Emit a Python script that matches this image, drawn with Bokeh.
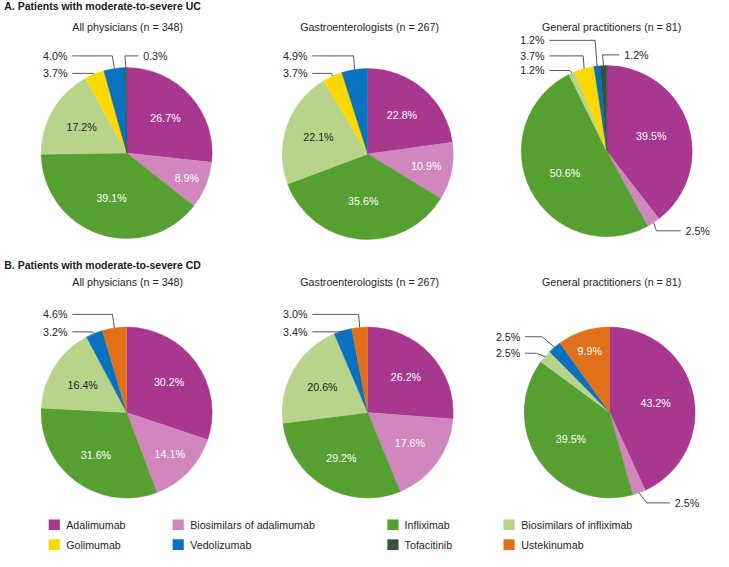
import math
from bokeh.plotting import figure
from bokeh.models import Range1d, ColumnDataSource
from bokeh.embed import file_html
from bokeh.resources import INLINE
from bokeh.core.properties import value

# ---------------- data ----------------
drugs = ["Adalimumab", "Biosimilars of adalimumab", "Infliximab", "Biosimilars of infliximab",
         "Golimumab", "Vedolizumab", "Tofacitinib", "Ustekinumab"]
colors = ["#A8378F", "#D187BE", "#56A032", "#B8D48A", "#FFD800", "#0A70C0", "#34513C", "#E0711A"]

section_titles = ["A. Patients with moderate-to-severe UC", "B. Patients with moderate-to-severe CD"]
panel_titles = ["All physicians (n = 348)", "Gastroenterologists (n = 267)", "General practitioners (n = 81)"]

uc_all = [26.7, 8.9, 39.1, 17.2, 3.7, 4.0, 0.3, 0.0]
uc_gastro = [22.8, 10.9, 35.6, 22.1, 3.7, 4.9, 0.0, 0.0]
uc_gp = [39.5, 2.5, 50.6, 1.2, 3.7, 1.2, 1.2, 0.0]
cd_all = [30.2, 14.1, 31.6, 16.4, 0.0, 3.2, 0.0, 4.6]
cd_gastro = [26.2, 17.6, 29.2, 20.6, 0.0, 3.4, 0.0, 3.0]
cd_gp = [43.2, 2.5, 39.5, 2.5, 0.0, 2.5, 0.0, 9.9]

panels = [uc_all, uc_gastro, uc_gp, cd_all, cd_gastro, cd_gp]

# ---------------- layout (reference pixel coordinates, y downward) ----------------
REF_H = 567
W, H = 713, 551
k = H / REF_H
xspan = W / k
xmid = 365.0

centers = [(128, 157), (376, 158), (622, 155), (128, 424), (376, 424), (625, 424)]
R = 88
subtitle_x = [129, 378, 627]
subtitle_y = [27, 290]
title_y = [6, 272]

# external labels: (panel, slice, side, label_y, text_anchor_x, elbow_dx)
ext = [
    (0, 5, "left", 57, 67, -2), (0, 4, "left", 75, 67, -2), (0, 6, "right", 57, 145, -1),
    (1, 5, "left", 57, 314, -1), (1, 4, "left", 75, 314, -1),
    (2, 5, "left", 41, 558, -2), (2, 4, "left", 57, 558, -1), (2, 3, "left", 72, 558, -2),
    (2, 6, "right", 56, 640, -1), (2, 1, "right", 237, 703, 3),
    (3, 7, "left", 323, 67, -2), (3, 5, "left", 341, 67, -2),
    (4, 7, "left", 323, 314, -1), (4, 5, "left", 341, 314, -2),
    (5, 5, "left", 346, 533, -13), (5, 3, "left", 363, 533, -9), (5, 1, "right", 517, 692, 8),
]

legend_sq_x = [53.5, 181, 402, 521.5]
legend_txt_x = [65.7, 193.3, 414, 534]
legend_y = [539.5, 560]


def Y(y):
    return REF_H - y


p = figure(width=W, height=H, output_backend="svg", toolbar_location=None,
           x_range=Range1d(xmid - xspan / 2, xmid + xspan / 2), y_range=Range1d(0, REF_H),
           min_border=0)
p.axis.visible = False
p.grid.visible = False
p.outline_line_color = None
p.background_fill_color = "white"
p.border_fill_color = "white"

FONT = value("Liberation Sans")
fs = f"{11 * k:.1f}px"
fs_title = f"{10.8 * k:.1f}px"

# titles
for t, ty in zip(section_titles, title_y):
    p.text(x=[2], y=[Y(ty)], text=[t], text_font=FONT, text_font_size=fs_title,
           text_font_style="bold", text_color="#1a1a1a", text_baseline="middle", text_align="left")
for row in range(2):
    for c in range(3):
        p.text(x=[subtitle_x[c]], y=[Y(subtitle_y[row])], text=[panel_titles[c]], text_font=FONT,
               text_font_size=fs, text_color="#262626", text_baseline="middle", text_align="center")


def frac_for(pct):
    if pct >= 35:
        return 0.55
    if pct >= 15:
        return 0.61
    if pct >= 10:
        return 0.70
    return 0.76


mids = {}
for pi, vals in enumerate(panels):
    cx, cy = centers[pi]
    total = sum(vals)
    cum = 0.0
    xs, ys, sa, ea, fc = [], [], [], [], []
    lx, ly, lt, lc = [], [], [], []
    for si, v in enumerate(vals):
        f0 = cum / total
        cum += v
        f1 = cum / total
        if v <= 0:
            continue
        xs.append(cx); ys.append(Y(cy))
        sa.append(math.pi / 2 - 2 * math.pi * f1)
        ea.append(math.pi / 2 - 2 * math.pi * f0)
        fc.append(colors[si])
        fm = (f0 + f1) / 2
        ang = 2 * math.pi * fm
        mids[(pi, si)] = (ang, v)
        if v >= 5:
            rf = frac_for(v)
            lx.append(cx + R * rf * math.sin(ang))
            ly.append(Y(cy - R * rf * math.cos(ang)))
            lt.append(f"{v:.1f}%")
            lc.append("#262626" if si == 3 else "white")
    src = ColumnDataSource(dict(x=xs, y=ys, sa=sa, ea=ea, c=fc))
    p.wedge(x="x", y="y", radius=R, start_angle="sa", end_angle="ea", direction="anticlock",
            fill_color="c", line_color="c", line_width=0.4, source=src)
    p.text(x=lx, y=ly, text=lt, text_color=lc, text_font=FONT, text_font_size=fs,
           text_align="center", text_baseline="middle")

# external labels with leader lines
for (pi, si, side, ly_, tx, edx) in ext:
    cx, cy = centers[pi]
    ang, v = mids[(pi, si)]
    ex = cx + R * math.sin(ang)
    ey = cy - R * math.cos(ang)
    elbow_x = ex + edx
    if side == "left":
        start_x = tx + 5
        align = "right"
    else:
        start_x = tx - 5
        align = "left"
    p.line(x=[start_x, elbow_x, ex], y=[Y(ly_), Y(ly_), Y(ey)], line_color="#595959", line_width=1)
    p.text(x=[tx], y=[Y(ly_)], text=[f"{v:.1f}%"], text_font=FONT, text_font_size=fs,
           text_color="#262626", text_align=align, text_baseline="middle")

# legend
for i, (d, c) in enumerate(zip(drugs, colors)):
    row, col = divmod(i, 4)
    p.rect(x=[legend_sq_x[col]], y=[Y(legend_y[row])], width=11.5, height=11, fill_color=c, line_color=None)
    p.text(x=[legend_txt_x[col]], y=[Y(legend_y[row])], text=[d], text_font=FONT, text_font_size=fs,
           text_color="#262626", text_align="left", text_baseline="middle")

open("out.html", "w").write(file_html(p, INLINE))
